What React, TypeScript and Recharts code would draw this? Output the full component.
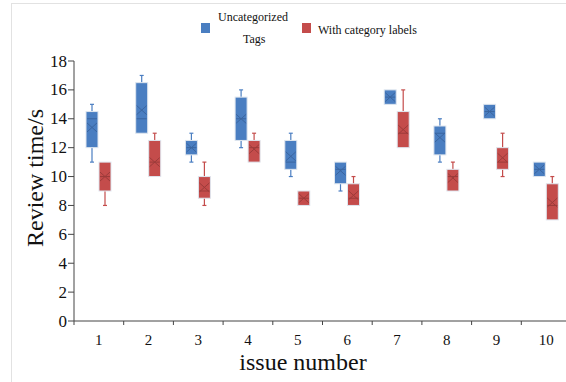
import React from "react";
import { ComposedChart, Bar, XAxis, YAxis, Legend } from "recharts";

const issues = ["1", "2", "3", "4", "5", "6", "7", "8", "9", "10"];

// Uncategorized Tags
const tagLo = [11, 13, 11, 12, 10, 9, 15, 11, 14, 10];
const tagQ1 = [12, 13, 11.5, 12.5, 10.5, 9.5, 15, 11.5, 14, 10];
const tagMed = [14, 14, 12, 14, 11, 10.5, 15.5, 13, 14.5, 10.5];
const tagQ3 = [14.5, 16.5, 12.5, 15.5, 12.5, 11, 16, 13.5, 15, 11];
const tagHi = [15, 17, 13, 16, 13, 11, 16, 14, 15, 11];
const tagMean = [13.4, 14.6, 12, 14, 11.4, 10.4, 15.5, 12.7, 14.5, 10.5];

// With category labels
const catLo = [8, 10, 8, 11, 8, 8, 12, 9, 10, 7];
const catQ1 = [9, 10, 8.5, 11, 8, 8, 12, 9, 10.5, 7];
const catMed = [10, 11, 9, 12, 8.5, 8.5, 13, 10, 11, 8];
const catQ3 = [11, 12.5, 10, 12.5, 9, 9.5, 14.5, 10.5, 12, 9.5];
const catHi = [11, 13, 11, 13, 9, 10, 16, 11, 13, 10];
const catMean = [10, 11, 9.25, 11.9, 8.5, 8.7, 13.25, 9.9, 11.3, 8.2];

const yTicks = [0, 2, 4, 6, 8, 10, 12, 14, 16, 18];

const data = issues.map((name, i) => ({
  name,
  tag: { lo: tagLo[i], q1: tagQ1[i], med: tagMed[i], q3: tagQ3[i], hi: tagHi[i], mean: tagMean[i] },
  cat: { lo: catLo[i], q1: catQ1[i], med: catMed[i], q3: catQ3[i], hi: catHi[i], mean: catMean[i] },
}));

const BLUE = "#4a7ec1";
const BLUE_DARK = "#3a65a0";
const RED = "#c44c4b";
const RED_DARK = "#9c3b3a";
const SERIF = "'Liberation Serif', 'Times New Roman', serif";

const W = 590;
const H = 382;
const M = { top: 0, right: 19, bottom: 11, left: 10 };
const Y_W = 64;
const BAND = (W - M.left - M.right - Y_W) / issues.length;

const makeBox = (key: "tag" | "cat", fill: string, dark: string) => (props: any) => {
  const { x, y, width, height, payload } = props;
  const s = payload[key];
  const k = height / (s.hi - s.lo);
  const yOf = (v: number) => y + (s.hi - v) * k;
  const cx = x + width / 2;
  const top = yOf(s.q3);
  const bot = yOf(s.q1);
  const ym = yOf(s.mean);
  return (
    <g>
      {s.hi > s.q3 && (
        <g stroke={fill} strokeWidth={1.2}>
          <line x1={cx} x2={cx} y1={yOf(s.hi)} y2={top} />
          <line x1={cx - 2} x2={cx + 2} y1={yOf(s.hi)} y2={yOf(s.hi)} />
        </g>
      )}
      {s.lo < s.q1 && (
        <g stroke={fill} strokeWidth={1.2}>
          <line x1={cx} x2={cx} y1={bot} y2={yOf(s.lo)} />
          <line x1={cx - 2} x2={cx + 2} y1={yOf(s.lo)} y2={yOf(s.lo)} />
        </g>
      )}
      <rect x={x} y={top} width={width} height={bot - top} fill={fill} stroke="#dfe6ef" strokeWidth={1} />
      <line x1={x + 1} x2={x + width - 1} y1={yOf(s.med)} y2={yOf(s.med)} stroke={dark} strokeWidth={1} />
      <g stroke={dark} strokeWidth={1}>
        <line x1={cx - 5} x2={cx + 5} y1={ym - 4.5} y2={ym + 4.5} />
        <line x1={cx - 5} x2={cx + 5} y1={ym + 4.5} y2={ym - 4.5} />
      </g>
    </g>
  );
};

const IssueTick = ({ x, y, payload, index }: any) => {
  const axisY = y - 4;
  return (
    <g>
      <line x1={x - BAND / 2} x2={x - BAND / 2} y1={axisY} y2={axisY + 4} stroke="#444" />
      {index === issues.length - 1 && (
        <line x1={x + BAND / 2} x2={x + BAND / 2} y1={axisY} y2={axisY + 4} stroke="#444" />
      )}
      <text x={x} y={axisY + 24} textAnchor="middle" style={{ fontFamily: SERIF }} fontSize={15} fill="#111">
        {payload.value}
      </text>
    </g>
  );
};

const TimeTick = ({ x, y, payload }: any) => (
  <text x={x} y={y} textAnchor="end" dominantBaseline="central" style={{ fontFamily: SERIF }} fontSize={17} fill="#111">
    {payload.value}
  </text>
);

const legendText = { position: "absolute" as const, fontFamily: SERIF, fontSize: 12, lineHeight: "16px", color: "#111", whiteSpace: "nowrap" as const };

const LegendBox = () => (
  <div style={{ position: "relative", height: 61 }}>
    <span style={{ position: "absolute", left: 201, top: 23, width: 9, height: 10, background: BLUE }} />
    <span style={{ ...legendText, left: 218, top: 9 }}>Uncategorized</span>
    <span style={{ ...legendText, left: 243, top: 31 }}>Tags</span>
    <span style={{ position: "absolute", left: 302, top: 23, width: 9, height: 10, background: RED }} />
    <span style={{ ...legendText, left: 318, top: 22 }}>With category labels</span>
  </div>
);

export default function App() {
  return (
    <div style={{ position: "absolute", left: 0, top: 0, width: 566, height: 382, overflow: "hidden", background: "#fff" }}>
      <div style={{ position: "absolute", left: 11, top: 3, right: 0, bottom: 0, borderTop: "1px solid #e2e2e2", borderLeft: "1px solid #e2e2e2" }} />
      <ComposedChart width={W} height={H} data={data} margin={M} barSize={12} barGap={1}>
        <Legend verticalAlign="top" content={<LegendBox />} wrapperStyle={{ left: 0, top: 0, width: W }} />
        <XAxis
          dataKey="name"
          height={50}
          tick={<IssueTick />}
          tickLine={false}
          tickSize={4}
          tickMargin={0}
          axisLine={{ stroke: "#444" }}
          interval={0}
          label={{
            content: ({ viewBox }: any) => (
              <text x={303} y={viewBox.y + 49} textAnchor="middle" style={{ fontFamily: SERIF }} fontSize={24} fill="#111">
                issue number
              </text>
            ),
          }}
        />
        <YAxis
          width={Y_W}
          domain={[0, 18]}
          ticks={yTicks}
          interval={0}
          tickSize={6}
          tickMargin={1}
          tick={<TimeTick />}
          tickLine={{ stroke: "#444" }}
          axisLine={{ stroke: "#444" }}
          label={{
            content: () => (
              <text
                x={35}
                y={178}
                transform="rotate(-90 35 178)"
                textAnchor="middle"
                dominantBaseline="central"
                style={{ fontFamily: SERIF }}
                fontSize={24}
                fill="#111"
              >
                Review time/s
              </text>
            ),
          }}
        />
        <Bar
          name="Uncategorized Tags"
          dataKey={(d: any) => [d.tag.lo, d.tag.hi]}
          fill={BLUE}
          shape={makeBox("tag", BLUE, BLUE_DARK)}
          isAnimationActive={false}
        />
        <Bar
          name="With category labels"
          dataKey={(d: any) => [d.cat.lo, d.cat.hi]}
          fill={RED}
          shape={makeBox("cat", RED, RED_DARK)}
          isAnimationActive={false}
        />
      </ComposedChart>
    </div>
  );
}
